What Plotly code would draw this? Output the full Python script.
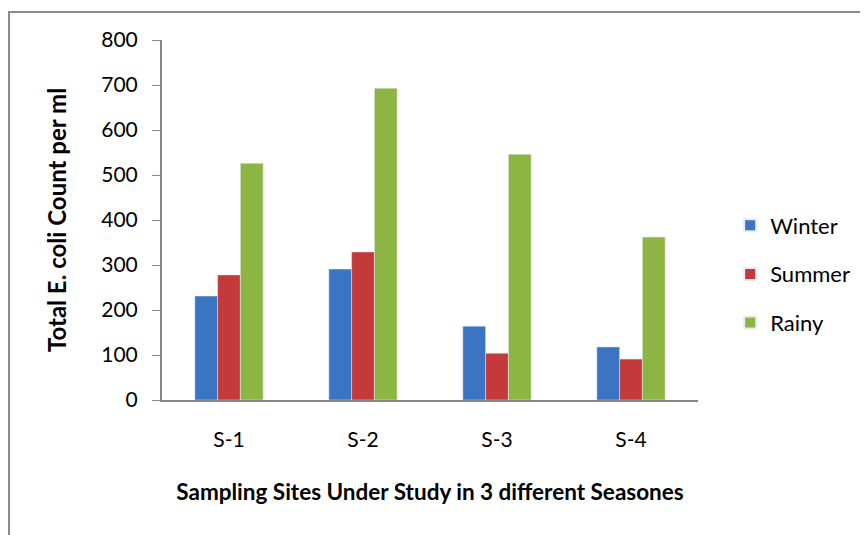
import plotly.graph_objects as go

sites = ["S-1", "S-2", "S-3", "S-4"]
winter = [231, 291, 164, 118]
summer = [278, 329, 104, 91]
rainy = [526, 693, 546, 362]
y_ticks = [0, 100, 200, 300, 400, 500, 600, 700, 800]

font = "Lato, Roboto, sans-serif"

fig = go.Figure()
fig.add_trace(go.Bar(name="Winter", x=sites, y=winter, marker_color="#3a74c2", legendgroup="w"))
fig.add_trace(go.Bar(name="Summer", x=sites, y=summer, marker_color="#c4393a", legendgroup="s"))
fig.add_trace(go.Bar(name="Rainy", x=sites, y=rainy, marker_color="#8db544", legendgroup="r"))

fig.update_layout(
    width=868, height=535,
    margin=dict(l=154, r=178, t=32, b=143),
    paper_bgcolor="white", plot_bgcolor="white",
    barmode="group", bargap=0.49, bargroupgap=0,
    font=dict(family=font, size=21, color="#000000"),
    legend=dict(x=1.06, y=0.35, xanchor="left", yanchor="middle",
                font=dict(size=22), itemsizing="constant", tracegroupgap=17,
                traceorder="grouped"),
    xaxis=dict(showline=True, linecolor="#878787", linewidth=2, automargin=False,
               ticks="", tickfont=dict(size=21), ticklabelstandoff=20,
               title=dict(text="<b>Sampling Sites Under Study in 3 different Seasones</b>",
                          font=dict(size=22.5), standoff=34)),
    yaxis=dict(range=[0, 800], tickvals=y_ticks, showline=True, linecolor="#878787",
               linewidth=2, ticks="outside", ticklen=8, tickcolor="#878787", automargin=False,
               showgrid=False, zeroline=False, tickfont=dict(size=21), ticklabelstandoff=10,
               title=dict(text="<b>Total E. coli Count per ml</b>", font=dict(size=24),
                          standoff=28)),
    shapes=[dict(type="rect", xref="paper", yref="paper",
                 x0=-0.2854, x1=1.34, y0=-0.5, y1=1.078,
                 line=dict(color="#8a8a8a", width=2), fillcolor="rgba(0,0,0,0)")],
)
fig.write_html("out.html")
